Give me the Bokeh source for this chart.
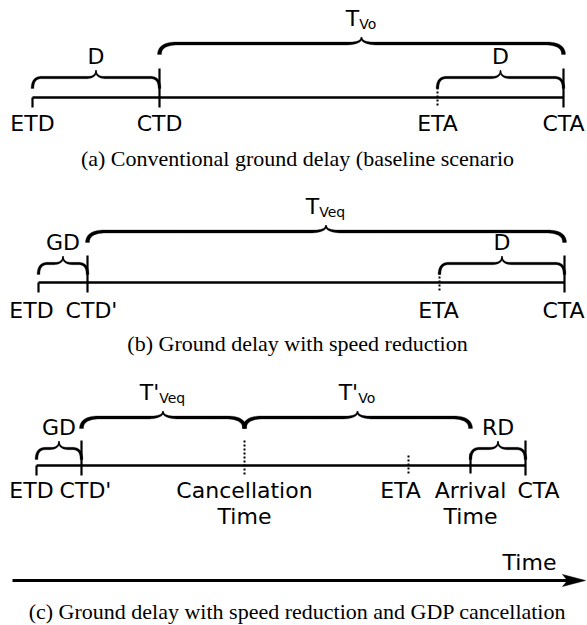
import numpy as np
from bokeh.plotting import figure
from bokeh.models import Range1d
from bokeh.core.properties import value
from bokeh.embed import file_html
from bokeh.resources import INLINE

# ---------------- data ----------------
a_events = ["ETD", "CTD", "ETA", "CTA"]
a_times = [32, 159, 437, 563]
a_marks = ["short", "tall", "dotted", "tall"]
a_braces = [(32, 159, "D", ""), (437, 563, "D", ""), (159, 563, "T", "Vo")]

b_events = ["ETD", "CTD'", "ETA", "CTA"]
b_times = [38, 87, 439, 564]
b_marks = ["short", "tall", "dotted", "tall"]
b_braces = [(38, 87, "GD", ""), (439, 564, "D", ""), (87, 564, "T", "Veq")]

c_events = ["ETD", "CTD'", "Cancellation|Time", "ETA", "Arrival|Time", "CTA"]
c_times = [36, 81, 244, 408, 470, 525]
c_marks = ["short", "tall", "tall_dotted", "dotted", "mid", "tall"]
c_braces = [(36, 81, "GD", ""), (470, 525, "RD", ""), (81, 244, "T'", "Veq"), (244, 470, "T'", "Vo")]

captions = ["(a) Conventional ground delay (baseline scenario",
            "(b) Ground delay with speed reduction",
            "(c) Ground delay with speed reduction and GDP cancellation"]
axis_start, axis_end, axis_label = 12, 585, "Time"

# ---------------- layout ----------------
panels = [
    dict(ev=a_events, t=a_times, mk=a_marks, br=a_braces, shift=[0, 0, 0, 0],
         tl=97, small=20, big=54, tall=29, lab=34, cap=166),
    dict(ev=b_events, t=b_times, mk=b_marks, br=b_braces, shift=[-7, 4, -1, -1],
         tl=282, small=19, big=51, tall=27, lab=36, cap=351),
    dict(ev=c_events, t=c_times, mk=c_marks, br=c_braces, shift=[-5, 4, 0, -8, 0, 13],
         tl=465, small=17, big=48, tall=25, lab=33, cap=619),
]
SANS = value("DejaVu Sans")
SERIF = value("Liberation Serif")
FS = 22
DY = -8  # renderer places alphabetic baseline slightly lower; compensate
CW = {"T": .611, "'": .275, "V": .684, "o": .612, "e": .615, "q": .635}

p = figure(width=587, height=625, x_range=Range1d(0, 587), y_range=Range1d(625, 0),
           output_backend="svg", toolbar_location=None, min_border=0,
           x_axis_type=None, y_axis_type=None)
p.grid.visible = False
p.outline_line_color = None
p.background_fill_color = "white"
p.border_fill_color = "white"


def bez(p0, c, p2, t):
    return ((1 - t) ** 2 * p0[0] + 2 * (1 - t) * t * c[0] + t ** 2 * p2[0],
            (1 - t) ** 2 * p0[1] + 2 * (1 - t) * t * c[1] + t ** 2 * p2[1])


def half_brace(xe, ye, yh, xm, yp, r, r2, wE, wM, wP, n=30):
    s = 1 if xm > xe else -1
    pts, ws = [], []
    P0, C, P2 = (xe, ye), (xe, yh), (xe + s * r, yh)
    for t in np.linspace(0, 1, n):
        pts.append(bez(P0, C, P2, t)); ws.append(wE + (wM - wE) * t)
    P3 = (xm - s * r2, yh)
    for t in np.linspace(0, 1, n)[1:]:
        pts.append((P2[0] + (P3[0] - P2[0]) * t, yh)); ws.append(wM)
    C2, P4 = (xm, yh), (xm, yp)
    for t in np.linspace(0, 1, n)[1:]:
        pts.append(bez(P3, C2, P4, t)); ws.append(wM + (wP - wM) * t)
    pts = np.array(pts); ws = np.array(ws)
    tx = np.gradient(pts[:, 0]); ty = np.gradient(pts[:, 1])
    nl = np.hypot(tx, ty); nl[nl == 0] = 1
    nx, ny = -ty / nl, tx / nl
    xs = np.concatenate([pts[:, 0] + nx * ws / 2, (pts[:, 0] - nx * ws / 2)[::-1]])
    ys = np.concatenate([pts[:, 1] + ny * ws / 2, (pts[:, 1] - ny * ws / 2)[::-1]])
    return list(xs), list(ys)


bx, by = [], []
line_x, line_y = [], []
tick_x, tick_y = [], []
dot_x, dot_y = [], []
lab_x, lab_y, lab_t = [], [], []
main_x, main_y, main_t = [], [], []
sub_x, sub_y, sub_t = [], [], []

for P in panels:
    tl = P["tl"]
    line_x.append([P["t"][0], P["t"][-1]]); line_y.append([tl, tl])
    for name, x, mk, sh in zip(P["ev"], P["t"], P["mk"], P["shift"]):
        if mk == "short":
            tick_x.append([x, x]); tick_y.append([tl, tl + 10])
        elif mk == "tall":
            tick_x.append([x, x]); tick_y.append([tl - P["tall"], tl + 10])
        elif mk == "mid":
            tick_x.append([x, x]); tick_y.append([tl - 12, tl + 8])
        elif mk == "dotted":
            dot_x.append([x, x]); dot_y.append([tl - 10, tl + 9])
        elif mk == "tall_dotted":
            dot_x.append([x, x]); dot_y.append([tl - P["tall"], tl + 10])
        for k, ln in enumerate(name.split("|")):
            lab_x.append(x + sh); lab_y.append(tl + P["lab"] + 26 * k + DY); lab_t.append(ln)
    for (x0, x1, main, sub) in P["br"]:
        xm = (x0 + x1) / 2
        if sub:
            yh = tl - P["big"]
            kw = dict(r=18, r2=15, wE=4.0, wM=3.0, wP=1.2)
            drop, rise = 11, 6
            wm = sum(CW[c] for c in main) * FS
            ws_ = sum(CW[c] for c in sub) * 14
            left = xm - (wm + ws_) / 2
            main_x.append(left); main_y.append(yh - 17 + DY); main_t.append(main)
            sub_x.append(left + wm); sub_y.append(yh - 12 + DY); sub_t.append(sub)
        else:
            yh = tl - P["small"]
            kw = dict(r=9, r2=9, wE=2.8, wM=2.4, wP=1.0)
            drop, rise = 11, 7
            lab_x.append(xm); lab_y.append(yh - 13 + DY); lab_t.append(main)
        for xe in (x0, x1):
            hx, hy = half_brace(xe, yh + drop, yh, xm, yh - rise, **kw)
            bx.append(hx); by.append(hy)

p.patches(bx, by, fill_color="black", line_color="black", line_width=0.3)
p.multi_line(line_x, line_y, line_color="black", line_width=2.5)
p.multi_line(tick_x, tick_y, line_color="black", line_width=2.2)
p.multi_line(dot_x, dot_y, line_color="black", line_width=2.0, line_dash="2 2")

p.text(lab_x, lab_y, text=lab_t, text_font=SANS, text_font_size=f"{FS}px",
       text_align="center", text_baseline="alphabetic", text_color="black")
p.text(main_x, main_y, text=main_t, text_font=SANS, text_font_size=f"{FS}px",
       text_align="left", text_baseline="alphabetic", text_color="black")
p.text(sub_x, sub_y, text=sub_t, text_font=SANS, text_font_size="14px",
       text_align="left", text_baseline="alphabetic", text_color="black")

# captions
p.text([297] * 3, [P["cap"] + DY for P in panels], text=captions, text_font=SERIF,
       text_font_size="22px", text_align="center", text_baseline="alphabetic",
       text_color="black")

# time axis arrow
ay = 580
p.line([axis_start, axis_end - 8], [ay, ay], line_color="black", line_width=2.8)
p.patch([axis_end, axis_end - 23, axis_end - 18, axis_end - 23],
        [ay, ay - 6, ay, ay + 6], fill_color="black", line_color="black", line_width=0.5)
p.text([529], [570 + DY], text=[axis_label], text_font=SANS, text_font_size=f"{FS}px",
       text_align="center", text_baseline="alphabetic", text_color="black")

open("out.html", "w").write(file_html(p, INLINE))
